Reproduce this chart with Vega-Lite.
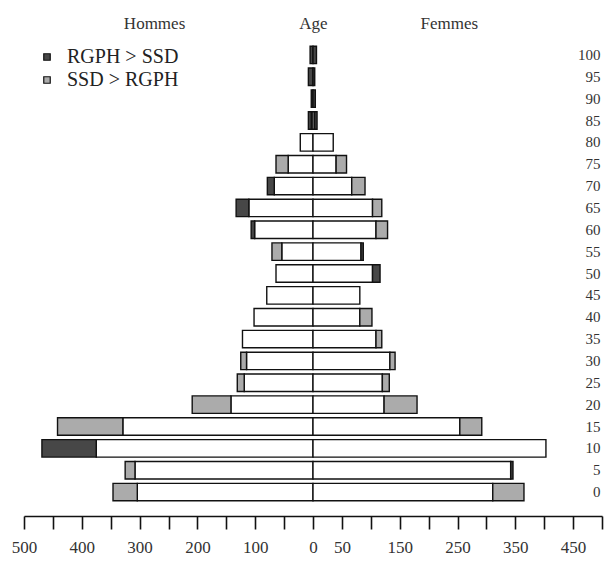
{
  "$schema": "https://vega.github.io/schema/vega-lite/v6.json",
  "width": 578,
  "height": 459,
  "autosize": {"type": "none"},
  "padding": {"left": 24, "top": 44, "right": 3, "bottom": 59},
  "background": "#ffffff",
  "config": {
    "view": {"stroke": null},
    "font": "Liberation Serif"
  },
  "datasets": {
    "commun": [
      {"age": 0, "sexe": "Hommes", "de": 0, "a": -304},
      {"age": 0, "sexe": "Femmes", "de": 0, "a": 311},
      {"age": 5, "sexe": "Hommes", "de": 0, "a": -308},
      {"age": 5, "sexe": "Femmes", "de": 0, "a": 342},
      {"age": 10, "sexe": "Hommes", "de": 0, "a": -375},
      {"age": 10, "sexe": "Femmes", "de": 0, "a": 403},
      {"age": 15, "sexe": "Hommes", "de": 0, "a": -329},
      {"age": 15, "sexe": "Femmes", "de": 0, "a": 254},
      {"age": 20, "sexe": "Hommes", "de": 0, "a": -142},
      {"age": 20, "sexe": "Femmes", "de": 0, "a": 123},
      {"age": 25, "sexe": "Hommes", "de": 0, "a": -119},
      {"age": 25, "sexe": "Femmes", "de": 0, "a": 120},
      {"age": 30, "sexe": "Hommes", "de": 0, "a": -115},
      {"age": 30, "sexe": "Femmes", "de": 0, "a": 133},
      {"age": 35, "sexe": "Hommes", "de": 0, "a": -122},
      {"age": 35, "sexe": "Femmes", "de": 0, "a": 109},
      {"age": 40, "sexe": "Hommes", "de": 0, "a": -102},
      {"age": 40, "sexe": "Femmes", "de": 0, "a": 81},
      {"age": 45, "sexe": "Hommes", "de": 0, "a": -80},
      {"age": 45, "sexe": "Femmes", "de": 0, "a": 81},
      {"age": 50, "sexe": "Hommes", "de": 0, "a": -64},
      {"age": 50, "sexe": "Femmes", "de": 0, "a": 103},
      {"age": 55, "sexe": "Hommes", "de": 0, "a": -54},
      {"age": 55, "sexe": "Femmes", "de": 0, "a": 83},
      {"age": 60, "sexe": "Hommes", "de": 0, "a": -101},
      {"age": 60, "sexe": "Femmes", "de": 0, "a": 109},
      {"age": 65, "sexe": "Hommes", "de": 0, "a": -111},
      {"age": 65, "sexe": "Femmes", "de": 0, "a": 103},
      {"age": 70, "sexe": "Hommes", "de": 0, "a": -67},
      {"age": 70, "sexe": "Femmes", "de": 0, "a": 67},
      {"age": 75, "sexe": "Hommes", "de": 0, "a": -43},
      {"age": 75, "sexe": "Femmes", "de": 0, "a": 40},
      {"age": 80, "sexe": "Hommes", "de": 0, "a": -22},
      {"age": 80, "sexe": "Femmes", "de": 0, "a": 35},
      {"age": 85, "sexe": "Hommes", "de": 0, "a": -3},
      {"age": 85, "sexe": "Femmes", "de": 0, "a": 3}
    ],
    "ecart": [
      {"age": 0, "sexe": "Hommes", "de": -304, "a": -346, "type": "SSD > RGPH"},
      {"age": 0, "sexe": "Femmes", "de": 311, "a": 365, "type": "SSD > RGPH"},
      {"age": 5, "sexe": "Hommes", "de": -308, "a": -325, "type": "SSD > RGPH"},
      {"age": 5, "sexe": "Femmes", "de": 342, "a": 346, "type": "RGPH > SSD"},
      {"age": 10, "sexe": "Hommes", "de": -375, "a": -469, "type": "RGPH > SSD"},
      {"age": 15, "sexe": "Hommes", "de": -329, "a": -442, "type": "SSD > RGPH"},
      {"age": 15, "sexe": "Femmes", "de": 254, "a": 292, "type": "SSD > RGPH"},
      {"age": 20, "sexe": "Hommes", "de": -142, "a": -209, "type": "SSD > RGPH"},
      {"age": 20, "sexe": "Femmes", "de": 123, "a": 180, "type": "SSD > RGPH"},
      {"age": 25, "sexe": "Hommes", "de": -119, "a": -131, "type": "SSD > RGPH"},
      {"age": 25, "sexe": "Femmes", "de": 120, "a": 132, "type": "SSD > RGPH"},
      {"age": 30, "sexe": "Hommes", "de": -115, "a": -125, "type": "SSD > RGPH"},
      {"age": 30, "sexe": "Femmes", "de": 133, "a": 142, "type": "SSD > RGPH"},
      {"age": 35, "sexe": "Femmes", "de": 109, "a": 119, "type": "SSD > RGPH"},
      {"age": 40, "sexe": "Femmes", "de": 81, "a": 102, "type": "SSD > RGPH"},
      {"age": 50, "sexe": "Femmes", "de": 103, "a": 116, "type": "RGPH > SSD"},
      {"age": 55, "sexe": "Hommes", "de": -54, "a": -71, "type": "SSD > RGPH"},
      {"age": 55, "sexe": "Femmes", "de": 83, "a": 87, "type": "RGPH > SSD"},
      {"age": 60, "sexe": "Hommes", "de": -101, "a": -107, "type": "RGPH > SSD"},
      {"age": 60, "sexe": "Femmes", "de": 109, "a": 129, "type": "SSD > RGPH"},
      {"age": 65, "sexe": "Hommes", "de": -111, "a": -133, "type": "RGPH > SSD"},
      {"age": 65, "sexe": "Femmes", "de": 103, "a": 119, "type": "SSD > RGPH"},
      {"age": 70, "sexe": "Hommes", "de": -67, "a": -79, "type": "RGPH > SSD"},
      {"age": 70, "sexe": "Femmes", "de": 67, "a": 90, "type": "SSD > RGPH"},
      {"age": 75, "sexe": "Hommes", "de": -43, "a": -64, "type": "SSD > RGPH"},
      {"age": 75, "sexe": "Femmes", "de": 40, "a": 58, "type": "SSD > RGPH"},
      {"age": 85, "sexe": "Hommes", "de": -3, "a": -8, "type": "RGPH > SSD"},
      {"age": 85, "sexe": "Femmes", "de": 3, "a": 7, "type": "RGPH > SSD"},
      {"age": 90, "sexe": "Hommes", "de": 0, "a": -3, "type": "RGPH > SSD"},
      {"age": 90, "sexe": "Femmes", "de": 0, "a": 4, "type": "RGPH > SSD"},
      {"age": 95, "sexe": "Hommes", "de": 0, "a": -8, "type": "RGPH > SSD"},
      {"age": 95, "sexe": "Femmes", "de": 0, "a": 3, "type": "RGPH > SSD"},
      {"age": 100, "sexe": "Hommes", "de": 0, "a": -5, "type": "RGPH > SSD"},
      {"age": 100, "sexe": "Femmes", "de": 0, "a": 6, "type": "RGPH > SSD"}
    ]
  },
  "encoding": {
    "y": {
      "field": "age",
      "type": "ordinal",
      "sort": "descending",
      "scale": {"domain": [100, 95, 90, 85, 80, 75, 70, 65, 60, 55, 50, 45, 40, 35, 30, 25, 20, 15, 10, 5, 0], "paddingInner": 0.2, "paddingOuter": 0.1},
      "axis": {
        "orient": "right",
        "title": null,
        "domain": false,
        "ticks": false,
        "labelAlign": "right",
        "labelPadding": -2,
        "labelFont": "Liberation Serif",
        "labelFontSize": 15,
        "labelColor": "#333333",
        "grid": false
      }
    }
  },
  "layer": [
    {
      "data": {"name": "commun"},
      "mark": {"type": "bar", "fill": "#ffffff", "stroke": "#111111", "strokeWidth": 1.4},
      "encoding": {
        "x": {
          "field": "de",
          "type": "quantitative",
          "scale": {"domain": [-500, 500], "nice": false, "zero": false},
          "axis": {
            "orient": "top",
            "title": null,
            "values": [-275, 0, 235],
            "labelExpr": "datum.value < 0 ? 'Hommes' : (datum.value == 0 ? 'Age' : 'Femmes')",
            "domain": false,
            "ticks": false,
            "grid": false,
            "labelOverlap": false,
            "labelFlush": false,
            "labelFont": "Liberation Serif",
            "labelFontSize": 17,
            "labelColor": "#333333",
            "labelPadding": 12
          }
        },
        "x2": {"field": "a"}
      }
    },
    {
      "data": {"name": "ecart"},
      "mark": {"type": "bar", "stroke": "#111111", "strokeWidth": 1.4},
      "encoding": {
        "x": {
          "field": "de",
          "type": "quantitative",
          "axis": {
            "orient": "bottom",
            "title": null,
            "values": [-500, -450, -400, -350, -300, -250, -200, -150, -100, -50, 0, 50, 100, 150, 200, 250, 300, 350, 400, 450, 500],
            "labelExpr": "indexof([-500, -400, -300, -200, -100, 0, 50, 150, 250, 350, 450], datum.value) >= 0 ? format(abs(datum.value), 'd') : ''",
            "offset": 13,
            "domain": true,
            "domainColor": "#111111",
            "domainWidth": 1.6,
            "ticks": true,
            "tickColor": "#111111",
            "tickWidth": 1.6,
            "tickSize": 13,
            "grid": false,
            "labelOverlap": false,
            "labelFlush": false,
            "labelFont": "Liberation Serif",
            "labelFontSize": 17,
            "labelColor": "#333333",
            "labelPadding": 10
          }
        },
        "x2": {"field": "a"},
        "fill": {
          "field": "type",
          "type": "nominal",
          "scale": {"domain": ["RGPH > SSD", "SSD > RGPH"], "range": ["#474747", "#ababab"]},
          "legend": {
            "title": null,
            "orient": "none",
            "legendX": 13,
            "legendY": 3,
            "symbolType": "square",
            "symbolSize": 42,
            "symbolStrokeColor": "#111111",
            "symbolStrokeWidth": 1.2,
            "labelFont": "Liberation Serif",
            "labelFontSize": 20,
            "labelColor": "#222222",
            "labelOffset": 10,
            "rowPadding": 3
          }
        }
      }
    }
  ],
  "resolve": {"axis": {"x": "independent"}}
}
